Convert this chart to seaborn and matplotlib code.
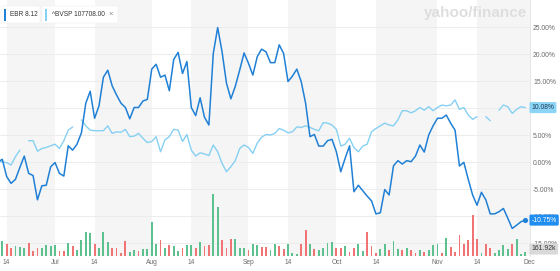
import numpy as np
import pandas as pd
import matplotlib
matplotlib.use("Agg")
import matplotlib.pyplot as plt
import seaborn as sns
from matplotlib.patches import Rectangle, FancyBboxPatch
from matplotlib.transforms import blended_transform_factory

# ---------------- data ----------------
trading_days = pd.bdate_range("2019-06-12", "2019-11-29").drop(
    pd.to_datetime(["2019-07-04", "2019-09-02"]))

ebr_pct = [0.0, 0.5, -2.7, -3.95, -3.2, -1.0, 1.1, -2.1, -2.5, -7.0,
           -4.4, -4.3, -0.9, -0.1, -2.1, -2.6, 3.0, 2.2, 3.3, 5.4,
           10.9, 13.1, 8.1, 10.4, 15.7, 17.0, 14.1, 12.4, 10.9, 10.1,
           8.0, 10.1, 10.1, 11.3, 11.6, 17.2, 18.1, 15.7, 16.1, 13.2,
           19.0, 20.3, 16.4, 18.6, 10.1, 8.6, 11.9, 8.3, 6.85, 20.1,
           24.9, 20.4, 14.6, 11.7, 14.0, 17.0, 20.2, 18.3, 16.1, 19.5,
           20.9, 20.4, 18.4, 18.4, 21.7, 20.1, 14.9, 15.9, 17.2, 14.9,
           10.9, 4.7, 5.1, 2.95, 2.95, 3.95, 4.2, 1.9, -1.8, 0.7,
           3.0, -5.5, -4.3, -5.3, -6.3, -7.2, -9.6, -9.4, -5.1, -6.1,
           -0.7, 0.25, -0.37, 0.25, 0.06, 1.1, 3.15, 1.85, 5.0, 6.7,
           8.1, 8.1, 8.7, 7.2, 5.9, -0.74, -0.06, -3.2, -6.1, -8.0,
           -5.6, -7.0, -9.6, -9.6, -9.2, -8.6, -10.4, -12.3, -11.7, -11.05,
           -10.75]

bvsp_pct = [0.0, 0.06, -0.12, -0.56, 1.0, 2.2, np.nan, 3.95, 3.95, 2.0,
            2.5, 2.7, 3.0, 3.3, 2.5, 3.95, 5.9, 6.5, np.nan, 7.8,
            6.7, 5.9, 5.8, 5.8, 5.8, 6.7, 5.3, 5.6, 5.5, 6.05,
            4.7, 4.8, 5.3, 4.4, 3.6, 3.8, 4.7, 1.9, 4.1, 4.7,
            6.05, 5.9, 3.8, 5.1, 2.2, 1.1, 1.7, 1.5, 1.2, 3.15,
            1.9, -0.25, -1.8, -0.86, 0.25, 2.5, 3.15, 2.7, 1.6, 3.5,
            4.6, 5.1, 5.0, 5.3, 6.2, 5.9, 5.4, 5.6, 6.5, 6.4,
            6.7, 6.4, 6.05, 5.8, 7.3, 7.2, 6.85, 6.05, 2.95, 3.3,
            4.4, 2.65, 1.9, 2.95, 3.3, 5.6, 6.2, 6.7, 7.2, 6.85,
            6.7, 7.8, 9.5, 9.5, 9.1, 9.5, 10.1, 9.6, 10.25, 9.5,
            10.1, 10.55, 10.4, 10.55, 11.5, 9.75, 10.1, 8.7, 7.9, 8.4,
            np.nan, 8.4, 7.65, np.nan, 9.6, 10.55, 10.25, 9.0, 9.75, 10.25,
            10.08]

volume_k = [818, 566, 464, 290, 377, 339, 313, 501, 189, 290,
            290, 403, 377, 415, 189, 189, 501, 377, 215, 592,
            916, 856, 464, 290, 916, 539, 313, 313, 124, 566,
            162, 226, 189, 264, 264, 1282, 441, 615, 313, 415,
            377, 189, 313, 415, 415, 290, 539, 388, 403, 2349,
            1859, 603, 313, 630, 630, 313, 313, 215, 441, 415,
            351, 351, 215, 441, 377, 253, 464, 124, 87, 464,
            969, 441, 253, 215, 290, 490, 539, 313, 290, 377,
            162, 290, 464, 189, 916, 377, 124, 253, 441, 215,
            566, 253, 215, 290, 215, 124, 215, 162, 215, 415,
            441, 124, 690, 339, 162, 792, 464, 592, 1546, 630,
            124, 441, 313, 124, 215, 415, 253, 441, 630, 75,
            161.92]

volume_dir = list("rgrrgggrrr" "ggggrrgrgg" "ggrgggrrrr" "ggrggggrgr"
                  "ggrggrgrrg" "grrrgggrgg" "rr"
                  "ggrrgggrrg" "rggggrrgrr" "ggrrrggrgg" "rgrrgrgggr"
                  "grrrrrrrgr" "rggggrggg")

tick_dates = ["2019-06-14", "2019-07-01", "2019-07-15", "2019-08-01",
              "2019-08-14", "2019-09-03", "2019-09-16", "2019-10-01",
              "2019-10-14", "2019-11-01", "2019-11-14", "2019-12-02"]
tick_labels = ["14", "Jul", "14", "Aug", "14", "Sep", "14", "Oct",
               "14", "Nov", "14", "Dec"]
pct_ticks = [-15, -10, -5, 0, 5, 10, 15, 20, 25]
ebr_label = "EBR 8.12"
bvsp_label = "^BVSP 107708.00"

# ---------------- style ----------------
sns.set_theme(style="white")
plt.rcParams['font.family'] = ['Liberation Sans', 'DejaVu Sans']

EBR_C = "#1f80d6"
BVSP_C = "#86d0f3"
UP_C = "#5cc08f"
DN_C = "#f07474"
BAND_C = "#f5f5f5"
GRID_C = "#ececec"
TXT_C = "#6b6b6b"

W, H = 560, 271
fig = plt.figure(figsize=(W / 100, H / 100), dpi=100)
fig.patch.set_facecolor("white")

plot_right = 530
plot_bottom = 256
ax_v = fig.add_axes([0, (H - plot_bottom) / H, plot_right / W, plot_bottom / H])
ax = ax_v.twinx()
ax.patch.set_visible(False)

idx = np.arange(len(trading_days))
tick_pos = [int(trading_days.searchsorted(pd.Timestamp(d))) for d in tick_dates]

xmin, xmax = 0.48, 121.05
ax_v.set_xlim(xmin, xmax)
ax.set_ylim(-17.4, 30.0)
ax_v.set_ylim(0, 9650)

# alternating shaded bands (from "14" to next month)
for k in range(0, len(tick_pos), 2):
    a = tick_pos[k]
    b = tick_pos[k + 1] if k + 1 < len(tick_pos) else xmax
    ax_v.axvspan(a, b, color=BAND_C, lw=0, zorder=0)

# horizontal grid lines on the percent scale (drawn behind volume bars)
gtrans = blended_transform_factory(ax_v.transAxes, ax.transData)
for t in pct_ticks:
    ax_v.plot([0, 1], [t, t], transform=gtrans, color=GRID_C, lw=0.7, zorder=0.5)

# volume bars
bar_colors = [UP_C if d == "g" else DN_C for d in volume_dir]
ax_v.bar(idx, volume_k, width=0.42, color=bar_colors, lw=0, zorder=1)

# lines
df_ebr = pd.DataFrame({"i": idx, "pct": ebr_pct})
sns.lineplot(data=df_ebr, x="i", y="pct", ax=ax, color=EBR_C, lw=1.1,
             estimator=None, sort=False, zorder=3)
bv = np.array(bvsp_pct, dtype=float)
df_bv = pd.DataFrame({"i": idx, "pct": bv, "seg": np.cumsum(np.isnan(bv))})
sns.lineplot(data=df_bv, x="i", y="pct", units="seg", ax=ax, color=BVSP_C,
             lw=1.0, estimator=None, sort=False, zorder=2)
ax.scatter([idx[-1]], [ebr_pct[-1]], s=14, color=EBR_C, zorder=4, lw=0)

# axes cosmetics
for a in (ax, ax_v):
    for s in a.spines.values():
        s.set_visible(False)
    a.set_xlabel("")
    a.set_ylabel("")
ax.spines["right"].set_visible(True)
ax.spines["right"].set_color("#e2e2e2")
ax.spines["right"].set_linewidth(0.6)
ax_v.set_yticks([])
ax_v.set_xticks(tick_pos)
ax_v.set_xticklabels(tick_labels)
ax_v.tick_params(axis="x", length=0, pad=2.4, labelsize=4.8, labelcolor=TXT_C)
ax.set_yticks(pct_ticks)
ax.set_yticklabels([f"{t:.2f}%" for t in pct_ticks])
ax.tick_params(axis="y", length=0, pad=2.2, labelsize=4.9, labelcolor=TXT_C)
ax.tick_params(axis="x", length=0)

# right-side value boxes
ytrans = blended_transform_factory(fig.transFigure, ax.transData)
fig.text(531.5 / W, bvsp_pct[-1], f"{bvsp_pct[-1]:.2f}%", transform=ytrans,
         fontsize=4.9, color="#1d3b55", va="center", ha="left", zorder=10,
         bbox=dict(boxstyle="round,pad=0.3,rounding_size=0.2", fc="#8dd5f7", ec="none"))
fig.text(531.5 / W, ebr_pct[-1], f"{ebr_pct[-1]:.2f}%", transform=ytrans,
         fontsize=4.9, color="white", va="center", ha="left", zorder=10,
         bbox=dict(boxstyle="round,pad=0.3,rounding_size=0.2", fc="#1f8ef0", ec="none"))
fig.text(531.5 / W, 1 - 249 / H, f"{volume_k[-1]:.2f}k",
         fontsize=4.9, color="#333333", va="center", ha="left", zorder=10,
         bbox=dict(boxstyle="round,pad=0.3,rounding_size=0.2", fc="#d9d9d9", ec="none"))

# legend chips
def chip(x0, x1, color, label):
    fig.patches.append(FancyBboxPatch((x0 / W, 1 - 23 / H), (x1 - x0) / W, 17 / H,
                                      boxstyle="round,pad=0,rounding_size=0.004",
                                      transform=fig.transFigure, fc="white",
                                      ec="#f0f0f0", lw=0.4, zorder=5))
    fig.patches.append(Rectangle(((x0 + 3) / W, 1 - 20.5 / H), 2.2 / W, 12 / H,
                                 transform=fig.transFigure, fc=color, ec="none",
                                 zorder=6))
    fig.text((x0 + 9.5) / W, 1 - 14.5 / H, label, fontsize=4.7, color="#333333",
             va="center", ha="left", zorder=7)

chip(1, 40, EBR_C, ebr_label)
chip(42, 118, BVSP_C, bvsp_label)
fig.text(108 / W, 1 - 14.5 / H, "\u00d7", fontsize=5.5, color="#888888",
         va="center", ha="left", zorder=7)

# watermark
fig.text(527 / W, 1 - 13 / H, "yahoo/finance", fontsize=11, fontweight="bold",
         color="#dedede", va="center", ha="right", zorder=1)

fig.savefig("out.png", dpi=100)
